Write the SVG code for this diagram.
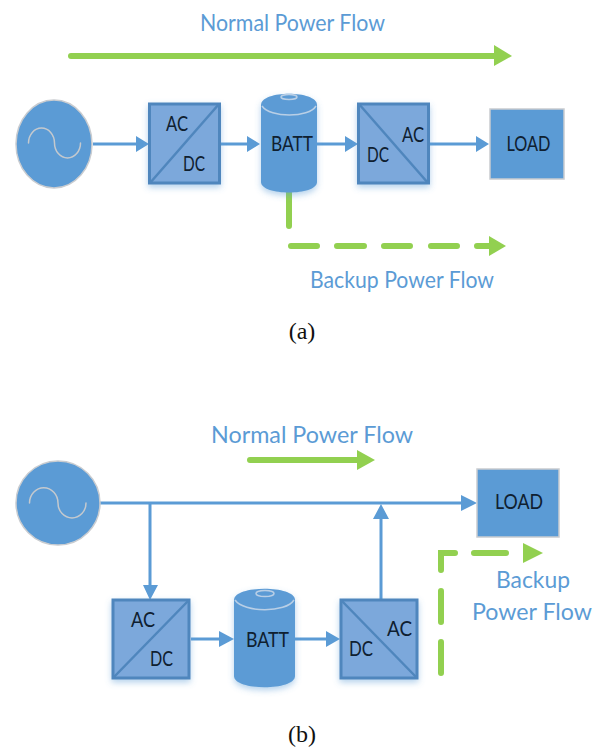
<svg xmlns="http://www.w3.org/2000/svg" width="597" height="748" viewBox="0 0 597 748">
<style>
.src{fill:#5b9bd5;stroke:#c9ccd0;stroke-width:1.5}
.sine{fill:none;stroke:#c4c9ce;stroke-width:1.5;stroke-linecap:round}
.conv{fill:#7ca8db;stroke:#4f86bd;stroke-width:3}
.diag{stroke:#4f86bd;stroke-width:2.5;fill:none}
.batt{fill:#5b9bd5}
.rim{fill:none;stroke:#b9cfe6;stroke-width:1.5}
.load{fill:#5b9bd5;stroke:#c9ccd0;stroke-width:1.5}
.lbl{font-family:Lato,"Liberation Sans",sans-serif;font-size:21px;fill:#0f2030;text-anchor:middle}
.flow{font-family:Lato,"Liberation Sans",sans-serif;font-size:24px;fill:#5b9bd5;text-anchor:middle}
.cap{font-family:"Liberation Serif",serif;font-size:24px;fill:#111;text-anchor:middle}
.wire{stroke:#5b9bd5;stroke-width:3;fill:none}
.head{fill:#5b9bd5}
.g{stroke:#92d050;stroke-width:6;fill:none;stroke-linecap:round}
.gh{fill:#92d050}
</style>
<defs>
<filter id="sh" x="-20%" y="-20%" width="140%" height="140%"><feDropShadow dx="0" dy="3" stdDeviation="3" flood-color="#5b9bd5" flood-opacity="0.45"/></filter>
</defs>

<g id="connectors">
<path class="wire" d="M93 144H137M221 144H248M317 144H346M430 144H478"/>
<path class="head" d="M136 136L149 144L136 152ZM247 136L260 144L247 152ZM345 136L358 144L345 152ZM476 136L489 144L476 152Z"/>
<path class="g" d="M71 56H495"/><path class="gh" d="M494 45L512 56L494 66Z"/>
<path class="g" d="M289 193V226M291 246H317M337 246H364M384 246H410M431 246H457M477 246H490"/>
<path class="gh" d="M489 236L506 246L489 256Z"/>
<path class="wire" d="M100 503H463M150 503V587M381 600V518M191 639H221M295 639H327"/>
<path class="head" d="M461 495L477 503L461 511ZM143 585H158L150 600ZM373 519H389L381 504ZM219 631L234 639L219 647ZM326 631L340 639L326 647Z"/>
<path class="g" d="M250 460H358"/><path class="gh" d="M357 450L375 460L357 470Z"/>
<path class="g" d="M441 673V642M441 622V591M441 570V553H455M474 553H506"/>
<path class="gh" d="M523 543L543 553L523 563Z"/>
</g>

<g id="source-a"><ellipse class="src" cx="54" cy="144" rx="38" ry="44"/><path class="sine" d="M28.500 143A13 15 0 0 1 54.500 143A13 15 0 0 0 80.500 143"/></g>
<g id="converter-a1"><rect class="conv" x="149.500" y="104" width="70" height="79" filter="url(#sh)"/><path class="diag" d="M150 183L219 104"/><text class="lbl" x="177" y="131" textLength="22" lengthAdjust="spacingAndGlyphs">AC</text><text class="lbl" x="194" y="171" textLength="22" lengthAdjust="spacingAndGlyphs">DC</text></g>
<g id="battery-a"><path class="batt" filter="url(#sh)" d="M261 105C261 90 317 90 317 105V182C317 196 261 196 261 182Z"/><path class="rim" d="M262 106C270 118 309 118 316 106"/><ellipse class="rim" cx="289" cy="97" rx="8" ry="2.500"/><text class="lbl" x="292" y="151" textLength="42" lengthAdjust="spacingAndGlyphs">BATT</text></g>
<g id="converter-a2"><rect class="conv" x="358.500" y="104" width="70" height="79" filter="url(#sh)"/><path class="diag" d="M359 104L428 183"/><text class="lbl" x="413" y="142" textLength="22" lengthAdjust="spacingAndGlyphs">AC</text><text class="lbl" x="378" y="162" textLength="22" lengthAdjust="spacingAndGlyphs">DC</text></g>
<g id="load-a"><rect class="load" x="490" y="109" width="74" height="70"/><text class="lbl" x="528.500" y="151" textLength="44" lengthAdjust="spacingAndGlyphs">LOAD</text></g>
<text class="flow" x="292.500" y="31" textLength="185" lengthAdjust="spacingAndGlyphs">Normal Power Flow</text>
<text class="flow" x="402" y="288" textLength="184" lengthAdjust="spacingAndGlyphs">Backup Power Flow</text>
<text class="cap" x="302" y="339">(a)</text>

<g id="source-b"><circle class="src" cx="58" cy="503" r="42"/><path class="sine" d="M29.500 503A14 15 0 0 1 58 503A14 15 0 0 0 86 503"/></g>
<g id="converter-b1"><rect class="conv" x="113" y="600" width="76" height="78" filter="url(#sh)"/><path class="diag" d="M113 678L189 600"/><text class="lbl" x="143" y="627" textLength="24" lengthAdjust="spacingAndGlyphs">AC</text><text class="lbl" x="161.500" y="666" textLength="23" lengthAdjust="spacingAndGlyphs">DC</text></g>
<g id="battery-b"><path class="batt" filter="url(#sh)" d="M234 600C234 585 295 585 295 600V676C295 691 234 691 234 676Z"/><path class="rim" d="M235 600C244 613 286 613 294 600"/><ellipse class="rim" cx="265" cy="593.500" rx="9" ry="3"/><text class="lbl" x="267.500" y="647" textLength="43" lengthAdjust="spacingAndGlyphs">BATT</text></g>
<g id="converter-b2"><rect class="conv" x="341" y="600" width="76" height="78" filter="url(#sh)"/><path class="diag" d="M341 600L417 678"/><text class="lbl" x="399.500" y="636" textLength="25" lengthAdjust="spacingAndGlyphs">AC</text><text class="lbl" x="361" y="656" textLength="24" lengthAdjust="spacingAndGlyphs">DC</text></g>
<g id="load-b"><rect class="load" x="477" y="469" width="82" height="68"/><text class="lbl" x="519" y="509" textLength="48" lengthAdjust="spacingAndGlyphs">LOAD</text></g>
<text class="flow" x="312" y="443" textLength="202" lengthAdjust="spacingAndGlyphs">Normal Power Flow</text>
<text class="flow" x="533" y="588" textLength="74" lengthAdjust="spacingAndGlyphs">Backup</text>
<text class="flow" x="532" y="620" textLength="120" lengthAdjust="spacingAndGlyphs">Power Flow</text>
<text class="cap" x="302" y="742">(b)</text>
</svg>
